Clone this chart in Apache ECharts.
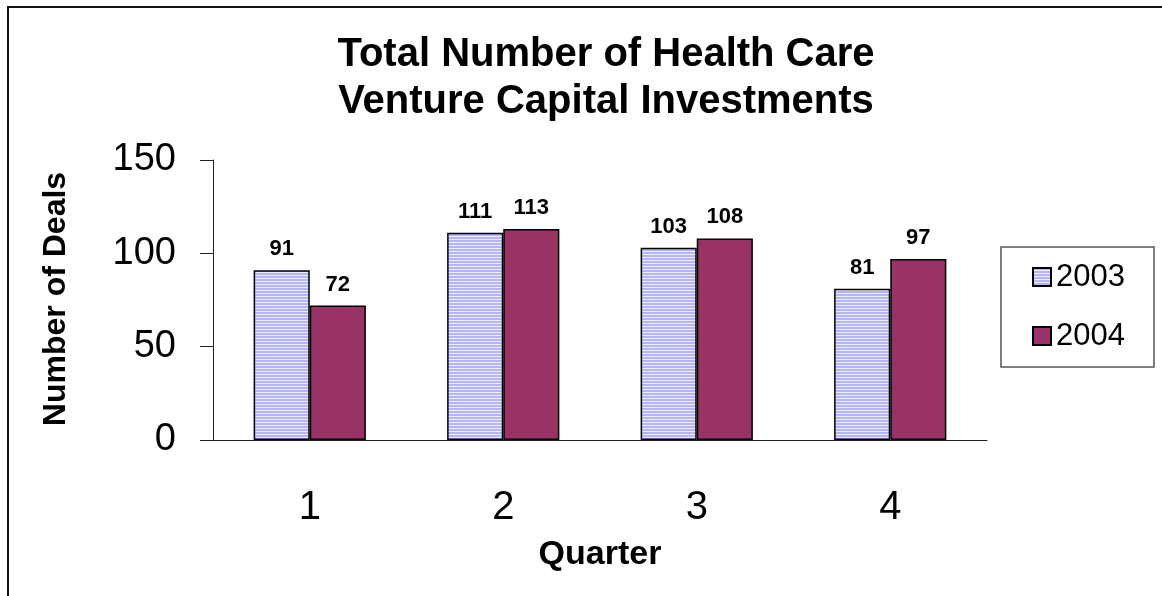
<!DOCTYPE html>
<html>
<head>
<meta charset="utf-8">
<script src="https://cdn.jsdelivr.net/npm/echarts@6/dist/echarts.min.js"></script>
<style>
  html, body { margin: 0; padding: 0; background: #fff; }
  #chart { width: 1162px; height: 596px; }
</style>
</head>
<body>
<div id="chart"></div>
<script>
const quarters = ['1', '2', '3', '4']
const deals2003 = [91, 111, 103, 81]
const deals2004 = [72, 113, 108, 97]
const seriesNames = ['2003', '2004']

// striped fill for 2003 bars (horizontal lines, like the old office pattern fill)
function stripes() {
  const c = document.createElement('canvas')
  c.width = 4
  c.height = 3
  const ctx = c.getContext('2d')
  ctx.fillStyle = '#eeeeff'
  ctx.fillRect(0, 0, 4, 3)
  ctx.fillStyle = '#b4b4ff'
  ctx.fillRect(0, 0, 4, 2)
  return c
}

const font = 'Arial, "Liberation Sans", sans-serif'
const chart = echarts.init(document.getElementById('chart'))

const labelStyle = {
  show: true,
  position: 'top',
  distance: 10,
  color: '#000',
  fontFamily: font,
  fontWeight: 'bold',
  fontSize: 22
}

chart.setOption({
  backgroundColor: '#fff',
  animation: false,
  textStyle: { fontFamily: font },
  title: {
    text: 'Total Number of Health Care\nVenture Capital Investments',
    left: 601,
    top: 26,
    textAlign: 'center',
    textStyle: {
      fontFamily: font,
      fontSize: 40,
      fontWeight: 'bold',
      color: '#000',
      lineHeight: 47
    }
  },
  legend: {
    orient: 'vertical',
    left: 1001,
    top: 247,
    padding: [14, 29, 15, 31],
    itemGap: 27,
    itemWidth: 18,
    itemHeight: 18,
    itemTextGap: 10,
    borderColor: '#555',
    borderWidth: 1.5,
    borderRadius: 0,
    icon: 'rect',
    data: seriesNames,
    textStyle: { fontFamily: font, fontSize: 31, color: '#000', lineHeight: 32 }
  },
  grid: { left: 213, top: 160, width: 774, height: 280 },
  xAxis: {
    type: 'category',
    data: quarters,
    name: 'Quarter',
    nameLocation: 'middle',
    nameGap: 98,
    nameTextStyle: { fontFamily: font, fontSize: 34, fontWeight: 'bold', color: '#000' },
    axisLine: { lineStyle: { color: '#222', width: 1 } },
    axisTick: { length: 13, lineStyle: { color: '#222' } },
    axisLabel: { margin: 48, fontFamily: font, fontSize: 40, color: '#000' }
  },
  yAxis: {
    type: 'value',
    min: 0,
    max: 150,
    interval: 50,
    axisLine: { show: true, lineStyle: { color: '#222', width: 1 } },
    axisTick: { show: true, length: 13, lineStyle: { color: '#222' } },
    axisLabel: { margin: 37, fontFamily: font, fontSize: 38, color: '#000' },
    splitLine: { show: false }
  },
  series: [
    {
      name: seriesNames[0],
      type: 'bar',
      data: deals2003,
      barGap: '0%',
      barCategoryGap: '42%',
      itemStyle: { color: { image: stripes(), repeat: 'repeat' }, borderColor: '#000', borderWidth: 1.5 },
      label: labelStyle
    },
    {
      name: seriesNames[1],
      type: 'bar',
      data: deals2004,
      barGap: '0%',
      barCategoryGap: '42%',
      itemStyle: { color: '#993366', borderColor: '#000', borderWidth: 1.5 },
      label: labelStyle
    }
  ],
  graphic: [
    {
      type: 'rect',
      shape: { x: 8, y: 7, width: 1200, height: 700 },
      style: { fill: 'none', stroke: '#111', lineWidth: 2 },
      silent: true
    },
    {
      type: 'text',
      x: 56,
      y: 299,
      rotation: Math.PI / 2,
      style: {
        text: 'Number of Deals',
        fontFamily: font,
        fontSize: 32,
        fontWeight: 'bold',
        fill: '#000',
        align: 'center',
        verticalAlign: 'middle'
      },
      silent: true
    }
  ]
})
</script>
</body>
</html>
